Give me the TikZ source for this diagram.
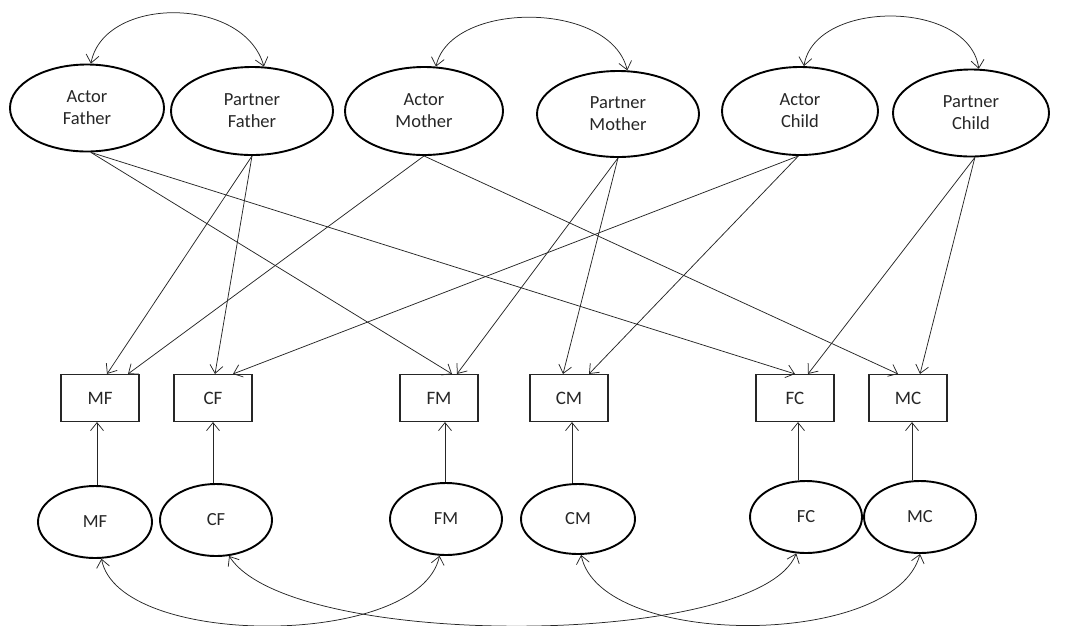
\documentclass[tikz,border=0pt]{standalone}
\usepackage{fontspec}
\setmainfont{Carlito}
\usetikzlibrary{shapes.geometric,arrows.meta}
\begin{document}
\begin{tikzpicture}[x=1pt,y=-1pt,
  lat/.style={ellipse, draw=black, line width=1.9pt, inner sep=0pt, align=center,
    font=\fontsize{18.5}{22}\selectfont, text=black!85},
  obs/.style={rectangle, draw=black!85, line width=1.1pt, minimum width=78pt,
    minimum height=47pt, inner sep=0pt, font=\fontsize{19}{22}\selectfont, text=black!85},
  tip/.tip={Straight Barb[length=8pt,width=13pt]},
  arr/.style={draw=black!85, line width=0.75pt, -tip},
  darr/.style={draw=black!85, line width=0.75pt, tip-tip}
]
\useasboundingbox (0,0) rectangle (1067,625);
% top latent variables
\node[lat, minimum width=154pt, minimum height=87pt] (af) at (87,108) {Actor\\Father};
\node[lat, minimum width=162pt, minimum height=88pt] (pf) at (252,111) {Partner\\Father};
\node[lat, minimum width=158pt, minimum height=88pt] (am) at (424,111) {Actor\\Mother};
\node[lat, minimum width=162pt, minimum height=86pt] (pm) at (618,114) {Partner\\Mother};
\node[lat, minimum width=156pt, minimum height=88pt] (ac) at (800,111) {Actor\\Child};
\node[lat, minimum width=156pt, minimum height=87pt] (pc) at (971,113) {Partner\\Child};
% boxes
\node[obs] (mf) at (100,398) {MF};
\node[obs] (cf) at (213,398) {CF};
\node[obs] (fm) at (439,398) {FM};
\node[obs] (cm) at (569,398) {CM};
\node[obs] (fc) at (795,398) {FC};
\node[obs] (mc) at (908,398) {MC};
% bottom latent variables
\node[lat, minimum width=114pt, minimum height=72pt] (mfe) at (95,522) {MF};
\node[lat, minimum width=112pt, minimum height=72pt] (cfe) at (216,520) {CF};
\node[lat, minimum width=112pt, minimum height=72pt] (fme) at (446,519) {FM};
\node[lat, minimum width=114pt, minimum height=70pt] (cme) at (578,519) {CM};
\node[lat, minimum width=112pt, minimum height=72pt] (fce) at (806,517) {FC};
\node[lat, minimum width=112pt, minimum height=72pt] (mce) at (920,517) {MC};
% top covariances
\draw[darr] (af.85) .. controls +(13,-68) and +(-20,-71) .. (pf.75);
\draw[darr] (am.75) .. controls +(15,-66) and +(-17,-70) .. (pm.78);
\draw[darr] (ac.85) .. controls +(11,-67) and +(-10,-69.5) .. (pc.80);
% paths from top ellipses to boxes
\draw[arr] (af.-85) -- ([xshift=13pt]fm.north);
\draw[arr] (af.-85) -- ([xshift=0pt]fc.north);
\draw[arr] (pf.south) -- ([xshift=7pt]mf.north);
\draw[arr] (pf.south) -- ([xshift=2pt]cf.north);
\draw[arr] (am.south) -- ([xshift=28pt]mf.north);
\draw[arr] (am.south) -- ([xshift=-10pt]mc.north);
\draw[arr] (pm.south) -- ([xshift=18pt]fm.north);
\draw[arr] (pm.south) -- ([xshift=-6pt]cm.north);
\draw[arr] (ac.-92) -- ([xshift=20pt]cf.north);
\draw[arr] (ac.-92) -- ([xshift=20pt]cm.north);
\draw[arr] (pc.-85) -- ([xshift=13pt]fc.north);
\draw[arr] (pc.-85) -- ([xshift=12pt]mc.north);
% residual paths
\draw[arr] ([xshift=-3pt]mf.south |- mfe.north) -- ([xshift=-3pt]mf.south);
\draw[arr] ([xshift=0pt]cf.south |- cfe.north) -- ([xshift=0pt]cf.south);
\draw[arr] ([xshift=6pt]fm.south |- fme.north) -- ([xshift=6pt]fm.south);
\draw[arr] ([xshift=3pt]cm.south |- cme.north) -- ([xshift=3pt]cm.south);
\draw[arr] ([xshift=3pt]fc.south |- fce.north) -- ([xshift=3pt]fc.south);
\draw[arr] ([xshift=4pt]mc.south |- mce.north) -- ([xshift=4pt]mc.south);
% bottom covariances
\draw[darr] (mfe.-80) .. controls +(17,90) and +(-20,93) .. (fme.-100);
\draw[darr] (cfe.-70) .. controls +(61,95) and +(-37,95) .. (fce.-105);
\draw[darr] (cme.-85) .. controls +(19,94) and +(-25,95) .. (mce.south);
\end{tikzpicture}
\end{document}
